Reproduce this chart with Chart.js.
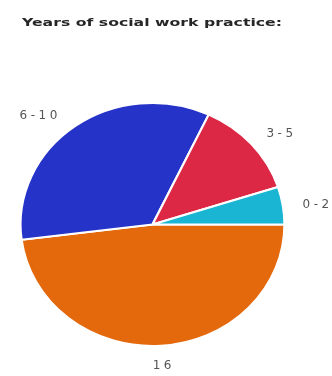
<!DOCTYPE html>
<html>
<head>
<meta charset="utf-8">
<script src="https://cdn.jsdelivr.net/npm/chart.js@4.4.1/dist/chart.umd.min.js"></script>
<style>
html,body{margin:0;padding:0;background:#fff;}
#c{display:block;}
</style>
</head>
<body>
<canvas id="c" width="332" height="376"></canvas>
<script>
const titleText = 'Years of social work practice:';
const categories = ['0-2', '3-5', '6-10', '16'];
const values = [5, 13, 34, 48];
const colors = ['#1ab5d3', '#dc2745', '#2633c8', '#e4680c'];

// Chart.js draws clockwise; the reference runs counter-clockwise from 3 o'clock,
// so hand the slices to the library in reverse order.
const rCats = categories.slice().reverse();
const rVals = values.slice().reverse();
const rCols = colors.slice().reverse();

const X_STRETCH = 1.086;

const stretchPlugin = {
  id: 'stretch',
  beforeDatasetsDraw(chart) {
    const meta = chart.getDatasetMeta(0);
    const a = meta.data[0];
    const ctx = chart.ctx;
    ctx.save();
    ctx.translate(a.x, 0);
    ctx.scale(X_STRETCH, 1);
    ctx.translate(-a.x, 0);
  },
  afterDatasetsDraw(chart) {
    chart.ctx.restore();
  }
};

function spacedText(ctx, text, x, y, spacing, align) {
  const chars = Array.from(text);
  const widths = chars.map(c => ctx.measureText(c).width);
  const total = widths.reduce((s, w) => s + w, 0) + spacing * (chars.length - 1);
  let start = x;
  if (align === 'center') start = x - total / 2;
  else if (align === 'right') start = x - total;
  ctx.textAlign = 'left';
  chars.forEach((c, i) => {
    ctx.fillText(c, start, y);
    start += widths[i] + spacing;
  });
}

const labelPlugin = {
  id: 'outLabels',
  afterDraw(chart) {
    const ctx = chart.ctx;
    ctx.save();
    // title: natural spacing, stretched horizontally to the reference width
    ctx.fillStyle = '#262626';
    ctx.font = 'bold 11px "DejaVu Sans", Verdana, sans-serif';
    ctx.textBaseline = 'middle';
    ctx.textAlign = 'left';
    const w = ctx.measureText(titleText).width;
    ctx.save();
    ctx.translate(22, 23);
    ctx.scale(260 / w, 1);
    ctx.fillText(titleText, 0, 0);
    ctx.restore();

    // slice labels
    const meta = chart.getDatasetMeta(0);
    ctx.font = '12px "DejaVu Sans", Verdana, sans-serif';
    ctx.fillStyle = '#555';
    meta.data.forEach((arc, i) => {
      const p = arc.getProps(['x', 'y', 'startAngle', 'endAngle', 'outerRadius'], true);
      const mid = (p.startAngle + p.endAngle) / 2;
      const cos = Math.cos(mid), sin = Math.sin(mid);
      const dx = cos < 0 ? 30 : 20;
      const dy = 20;
      const lx = p.x + (p.outerRadius * X_STRETCH + dx) * cos;
      let ly = p.y + (p.outerRadius + dy) * sin;
      if (sin < 0.5) ly += cos < 0 ? 6 : 3;
      let align = 'center';
      if (cos > 0.3) align = 'left';
      else if (cos < -0.3) align = 'right';
      spacedText(ctx, rCats[i], lx, ly, 3.5, align);
    });
    ctx.restore();
  }
};

new Chart(document.getElementById('c'), {
  type: 'pie',
  data: {
    labels: rCats,
    datasets: [{
      data: rVals,
      backgroundColor: rCols,
      borderColor: '#ffffff',
      borderWidth: 2
    }]
  },
  options: {
    responsive: false,
    animation: false,
    rotation: 90,
    layout: { padding: { top: 102, bottom: 29, left: 30, right: 57 } },
    plugins: {
      legend: { display: false },
      tooltip: { enabled: false },
      title: { display: false }
    }
  },
  plugins: [stretchPlugin, labelPlugin]
});
</script>
</body>
</html>
